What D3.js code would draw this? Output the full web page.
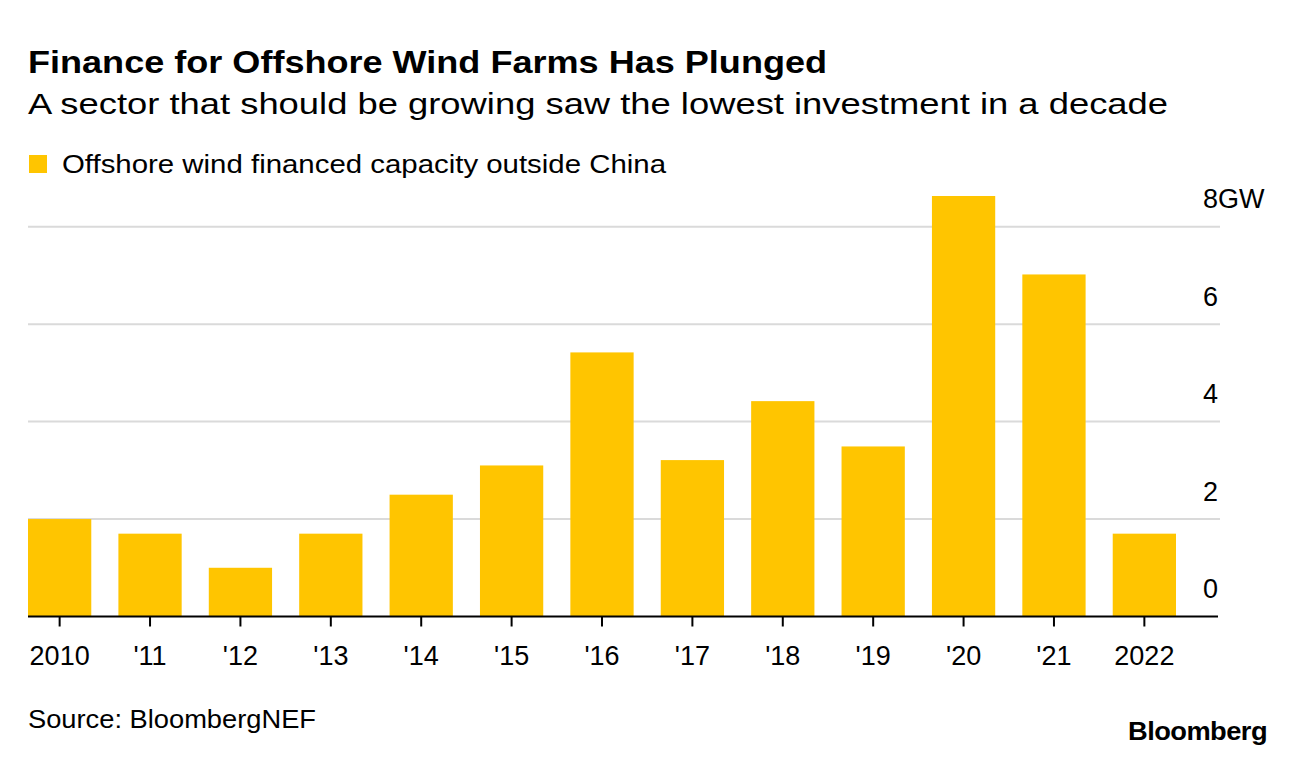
<!DOCTYPE html>
<html>
<head>
<meta charset="utf-8">
<script src="https://cdn.jsdelivr.net/npm/d3@7"></script>
<style>
  html, body { margin: 0; padding: 0; background: #ffffff; }
  svg { display: block; font-family: "Liberation Sans", Arial, Helvetica, sans-serif; }
</style>
</head>
<body>
<svg id="chart" width="1296" height="760"></svg>
<script>
// ---- Data ----
const categories = ["2010", "'11", "'12", "'13", "'14", "'15", "'16", "'17", "'18", "'19", "'20", "'21", "2022"];
const capacityGW = [2.0, 1.7, 1.0, 1.7, 2.5, 3.1, 5.42, 3.21, 4.42, 3.49, 8.63, 7.02, 1.7];
const yTicks = [0, 2, 4, 6, 8];
const yTickLabels = ["0", "2", "4", "6", "8GW"];
const seriesName = "Offshore wind financed capacity outside China";
const titleText = "Finance for Offshore Wind Farms Has Plunged";
const subtitleText = "A sector that should be growing saw the lowest investment in a decade";
const sourceText = "Source: BloombergNEF";

const barColor = "#ffc500";
const svg = d3.select("#chart");

function fit(sel, w) {
  sel.attr("textLength", w).attr("lengthAdjust", "spacingAndGlyphs");
  return sel;
}

// Titles
fit(svg.append("text").attr("x", 28).attr("y", 73)
  .attr("font-size", 32).attr("font-weight", "bold").attr("fill", "#000")
  .text(titleText), 799);
fit(svg.append("text").attr("x", 28).attr("y", 114)
  .attr("font-size", 29).attr("fill", "#000")
  .text(subtitleText), 1140);

// Legend
svg.append("rect").attr("x", 29).attr("y", 155).attr("width", 18).attr("height", 18).attr("fill", barColor);
fit(svg.append("text").attr("x", 62).attr("y", 173)
  .attr("font-size", 25).attr("fill", "#000")
  .text(seriesName), 604);

// Scales
const x = d3.scaleBand().domain(categories).range([28, 1176]).paddingInner(0.3).paddingOuter(0);
const y = d3.scaleLinear().domain([0, 8]).range([616.5, 226.7]);

// Gridlines
svg.append("g").selectAll("line").data(yTicks.filter(d => d !== 0)).join("line")
  .attr("x1", 28).attr("x2", 1220)
  .attr("y1", d => y(d)).attr("y2", d => y(d))
  .attr("stroke", "#dadada").attr("stroke-width", 2);

// Bars
svg.append("g").selectAll("rect").data(categories).join("rect")
  .attr("x", d => x(d))
  .attr("width", x.bandwidth())
  .attr("y", (d, i) => y(capacityGW[i]))
  .attr("height", (d, i) => y(0) - y(capacityGW[i]))
  .attr("fill", barColor);

// Baseline
svg.append("line").attr("x1", 28).attr("x2", 1218)
  .attr("y1", y(0)).attr("y2", y(0))
  .attr("stroke", "#000").attr("stroke-width", 2);

// X axis ticks and labels
const xAxis = d3.axisBottom(x).tickSize(10).tickPadding(24);
const gx = svg.append("g").attr("transform", `translate(0,${y(0)})`).call(xAxis);
gx.select(".domain").remove();
gx.selectAll(".tick line").attr("stroke", "#000").attr("stroke-width", 2);
gx.selectAll(".tick text")
  .attr("font-size", 27).attr("font-family", "Liberation Sans, Arial, sans-serif")
  .attr("fill", "#000").attr("dy", null).attr("y", 48.5);

// Y axis labels
const yAxis = d3.axisRight(y).tickValues(yTicks).tickSize(0).tickFormat((d, i) => yTickLabels[i]);
const gy = svg.append("g").attr("transform", "translate(1203,0)").call(yAxis);
gy.select(".domain").remove();
gy.selectAll(".tick text")
  .attr("x", 0).attr("dy", null).attr("y", -19)
  .attr("font-size", 27).attr("font-family", "Liberation Sans, Arial, sans-serif")
  .attr("fill", "#000").attr("text-anchor", "start");

// Source and logo
fit(svg.append("text").attr("x", 28).attr("y", 728)
  .attr("font-size", 25).attr("fill", "#000").text(sourceText), 288);
fit(svg.append("text").attr("x", 1128).attr("y", 740)
  .attr("font-size", 25).attr("font-weight", "bold").attr("fill", "#000")
  .attr("letter-spacing", -0.5).text("Bloomberg"), 139);
</script>
</body>
</html>
